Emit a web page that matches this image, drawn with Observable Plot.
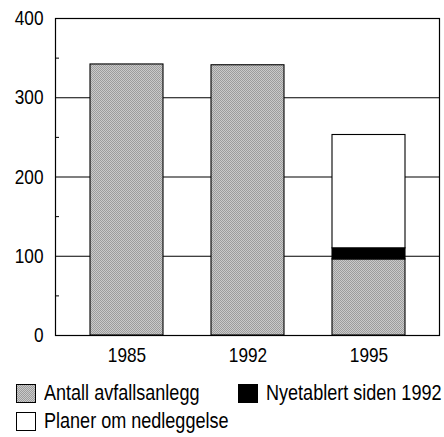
<!DOCTYPE html>
<html>
<head>
<meta charset="utf-8">
<script src="https://cdn.jsdelivr.net/npm/d3@7"></script>
<script src="https://cdn.jsdelivr.net/npm/@observablehq/plot@0.6"></script>
<style>
  html, body { margin: 0; padding: 0; background: #fff; }
  #chart { width: 444px; font-family: "Liberation Sans", Arial, sans-serif; }
  .legend { position: relative; height: 65px; font-size: 22px; color: #000; }
  .item { position: absolute; display: flex; align-items: center; height: 30px; white-space: nowrap; }
  .sw { width: 20px; height: 19px; box-sizing: border-box; border: 1px solid #000; margin-right: 8px; flex: none; }
  .lbl { display: inline-block; transform: scaleX(0.82); transform-origin: 0 50%; }
  .grey { background: repeating-conic-gradient(#9c9c9c 0 25%, #cacaca 0 50%) 0 0/2px 2px; }
  .black { background: #000; }
  .white { background: #fff; }
</style>
</head>
<body>
<div id="chart"></div>
<script>
const years = ["1985", "1992", "1995"];
const antall = [342, 341, 96];
const nyetablert = [0, 0, 14];
const planer = [0, 0, 143];
const seriesNames = ["Antall avfallsanlegg", "Nyetablert siden 1992", "Planer om nedleggelse"];
const yTicks = [0, 100, 200, 300, 400];
const minorTicks = [50, 150, 250, 350];

const rows = [];
years.forEach((yr, i) => {
  rows.push({year: yr, series: seriesNames[0], value: antall[i]});
  rows.push({year: yr, series: seriesNames[1], value: nyetablert[i]});
  rows.push({year: yr, series: seriesNames[2], value: planer[i]});
});

const svg = Plot.plot({
  width: 444,
  height: 372,
  marginLeft: 55,
  marginRight: 5,
  marginTop: 18,
  marginBottom: 37,
  style: {fontFamily: "'Liberation Sans', Arial, sans-serif", fontSize: "21px", color: "#000", background: "#fff"},
  x: {domain: years, paddingInner: 0.4, paddingOuter: 0.276, label: null},
  y: {domain: [0, 400], label: null},
  color: {domain: seriesNames, range: ["url(#dither)", "#000", "#fff"]},
  marks: [
    Plot.gridY([100, 200, 300], {stroke: "#000", strokeOpacity: 1, strokeWidth: 1.1}),
    Plot.barY(rows, {x: "year", y: "value", fill: "series", stroke: "#000", strokeWidth: 1.1, order: seriesNames}),
    Plot.axisY(minorTicks, {tickSize: -4, text: null, stroke: "#000", strokeWidth: 1}),
    Plot.axisY(yTicks, {tickSize: 0, tickPadding: 12, fontSize: 21, fill: "#000"}),
    Plot.axisX({tickSize: 0, tickPadding: 12, fontSize: 21, fill: "#000"}),
    Plot.frame({stroke: "#000", strokeWidth: 1.2})
  ]
});

// condense tick label text horizontally around its anchor
d3.select(svg).selectAll("text").each(function () {
  const t = this.getAttribute("transform") || "";
  this.setAttribute("transform", (t + " scale(0.82,1)").trim());
});

const defs = d3.select(svg).insert("defs", ":first-child");
const pat = defs.append("pattern").attr("id", "dither").attr("patternUnits", "userSpaceOnUse")
  .attr("width", 2).attr("height", 2);
pat.append("rect").attr("width", 2).attr("height", 2).attr("fill", "#cacaca");
pat.append("rect").attr("x", 0).attr("y", 0).attr("width", 1).attr("height", 1).attr("fill", "#9c9c9c");
pat.append("rect").attr("x", 1).attr("y", 1).attr("width", 1).attr("height", 1).attr("fill", "#9c9c9c");

const chart = document.getElementById("chart");
chart.appendChild(svg);

const legend = document.createElement("div");
legend.className = "legend";
const items = [
  {name: seriesNames[0], cls: "grey", left: 16, top: 6},
  {name: seriesNames[1], cls: "black", left: 238, top: 6},
  {name: seriesNames[2], cls: "white", left: 16, top: 34}
];
items.forEach(it => {
  const d = document.createElement("div");
  d.className = "item";
  d.style.left = it.left + "px";
  d.style.top = it.top + "px";
  const sw = document.createElement("span");
  sw.className = "sw " + it.cls;
  const t = document.createElement("span");
  t.className = "lbl";
  t.textContent = it.name;
  d.appendChild(sw);
  d.appendChild(t);
  legend.appendChild(d);
});
chart.appendChild(legend);
</script>
</body>
</html>
